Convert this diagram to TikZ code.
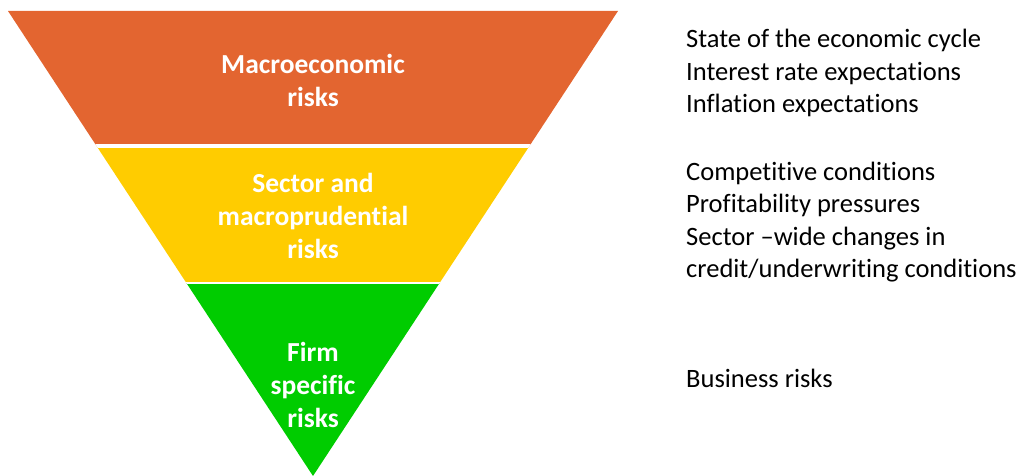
\documentclass[tikz,border=0pt]{standalone}
\usepackage{fontspec}
\setmainfont{Carlito}[RawFeature=-liga]
\definecolor{macroOrange}{RGB}{227,101,48}
\definecolor{sectorYellow}{RGB}{255,204,0}
\definecolor{firmGreen}{RGB}{0,204,0}
\begin{document}
\begin{tikzpicture}[x=1pt,y=-1pt,
  bandlabel/.style={text=white,font=\fontsize{27.5}{33}\selectfont\bfseries,align=center,inner sep=0pt},
  riskitems/.style={text=black,font=\fontsize{26.5}{32.3}\selectfont,align=left,anchor=west,inner sep=0pt}]
\useasboundingbox (0,0) rectangle (1021,476);
\coordinate (tl) at (8,11);
\coordinate (tr) at (618,11);
\coordinate (apex) at (313,476);
\begin{scope}
\clip (tl) -- (tr) -- (apex) -- cycle;
\fill[macroOrange] (0,0) rectangle (640,146);
\fill[sectorYellow] (0,146) rectangle (640,283);
\fill[firmGreen] (0,283) rectangle (640,480);
\draw[white,line width=3.5pt] (0,146) -- (640,146);
\draw[white,line width=2.5pt] (0,283) -- (640,283);
\end{scope}
\node[bandlabel] (macro) at (313,80) {Macroeconomic\\risks};
\node[bandlabel] (sector) at (313,216) {Sector and\\macroprudential\\risks};
\node[bandlabel] (firm) at (313,385) {Firm\\specific\\risks};
\node[riskitems] (macroitems) at (686,73) {State of the economic cycle\\Interest rate expectations\\Inflation expectations};
\node[riskitems] (sectoritems) at (686,222) {Competitive conditions\\Profitability pressures\\Sector –wide changes in\\credit/underwriting conditions};
\node[riskitems] (firmitems) at (686,378) {Business risks};
\end{tikzpicture}
\end{document}
